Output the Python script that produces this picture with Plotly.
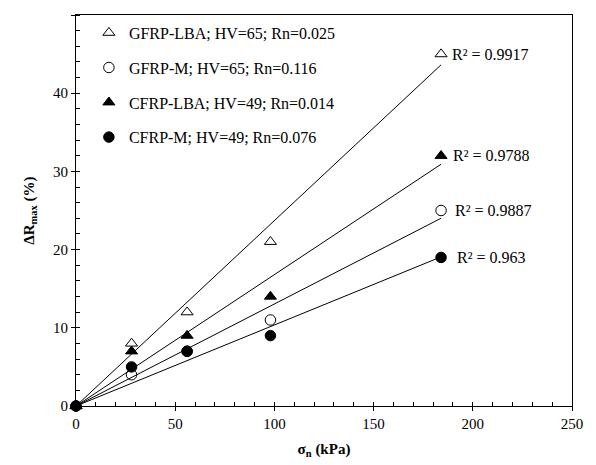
import numpy as np
import plotly.graph_objects as go

sigma_n = [0, 28, 56, 98, 184]
gfrp_lba = [0, 8, 12, 21, 45]
gfrp_m = [0, 4, 7, 11, 25]
cfrp_lba = [0, 7, 9, 14, 32]
cfrp_m = [0, 5, 7, 9, 19]

names = ["GFRP-LBA; HV=65; Rn=0.025", "GFRP-M; HV=65; Rn=0.116",
         "CFRP-LBA; HV=49; Rn=0.014", "CFRP-M; HV=49; Rn=0.076"]
r2_labels = ["R² = 0.9917", "R² = 0.9887", "R² = 0.9788", "R² = 0.963"]
symbols = ["triangle-up-open", "circle-open", "triangle-up", "circle"]
series = [gfrp_lba, gfrp_m, cfrp_lba, cfrp_m]
label_shift = [9, 12, 10, 14]

FONT = "Liberation Serif"
fig = go.Figure()

x = np.array(sigma_n, dtype=float)
# trend lines (linear through origin)
for ys in series:
    y = np.array(ys, dtype=float)
    k = (x * y).sum() / (x * x).sum()
    fig.add_trace(go.Scatter(x=[0, x.max()], y=[0, k * x.max()], mode="lines",
                             line=dict(color="black", width=1), showlegend=False,
                             hoverinfo="skip"))

for i, (ys, nm, sym) in enumerate(zip(series, names, symbols)):
    fig.add_trace(go.Scatter(x=sigma_n, y=ys, mode="markers", name=nm,
                             legendgroup=f"g{i}",
                             marker=dict(symbol=sym, size=10.5, color="black",
                                         line=dict(color="black", width=1)),
                             cliponaxis=False))

for ys, lab, sh in zip(series, r2_labels, label_shift):
    fig.add_annotation(x=sigma_n[-1], y=ys[-1], xref="x", yref="y", text=lab,
                       showarrow=False, xanchor="left", yanchor="middle", xshift=sh,
                       font=dict(family=FONT, size=16, color="black"))

axis_common = dict(showgrid=False, zeroline=False, showline=True, linecolor="black",
                   linewidth=1, mirror=True, ticks="outside", ticklen=4,
                   tickcolor="black", tickwidth=1, automargin=False,
                   tickfont=dict(family=FONT, size=15, color="black"))

fig.update_xaxes(range=[0, 250], dtick=50, tick0=0,
                 minor=dict(dtick=10, ticks="inside", ticklen=4, tickcolor="black"),
                 title=dict(text="<b>σ<sub>n</sub> (kPa)</b>", font=dict(family=FONT, size=15, color="black"),
                            standoff=12),
                 **axis_common)
fig.update_yaxes(range=[0, 50], dtick=10, tick0=0,
                 minor=dict(dtick=2, ticks="inside", ticklen=4, tickcolor="black"),
                 title=dict(text="<b>ΔR<sub>max</sub> (%)</b>", font=dict(family=FONT, size=15, color="black"),
                            standoff=14),
                 **axis_common)

# inner half of the crossing major ticks
fig.update_layout(
    xaxis2=dict(overlaying="x", range=[0, 250], dtick=50, tick0=0, ticks="inside",
                ticklen=4, tickcolor="black", showticklabels=False, showgrid=False,
                zeroline=False, showline=False, side="bottom", automargin=False),
    yaxis2=dict(overlaying="y", range=[0, 50], dtick=10, tick0=0, ticks="inside",
                ticklen=4, tickcolor="black", showticklabels=False, showgrid=False,
                zeroline=False, showline=False, side="left", automargin=False),
)
fig.add_trace(go.Scatter(x=[None], y=[None], xaxis="x2", yaxis="y2",
                         showlegend=False, hoverinfo="skip"))

# page is offset by the browser's 8px body margin; compensate
fig.update_layout(
    width=588, height=457,
    margin=dict(l=68, r=24, t=7, b=59),
    plot_bgcolor="white", paper_bgcolor="white",
    font=dict(family=FONT, size=15, color="black"),
    legend=dict(x=0.026, y=0.998, xanchor="left", yanchor="top",
                bgcolor="rgba(0,0,0,0)", tracegroupgap=11,
                font=dict(family=FONT, size=16, color="black")),
)

fig.write_html("out.html")
